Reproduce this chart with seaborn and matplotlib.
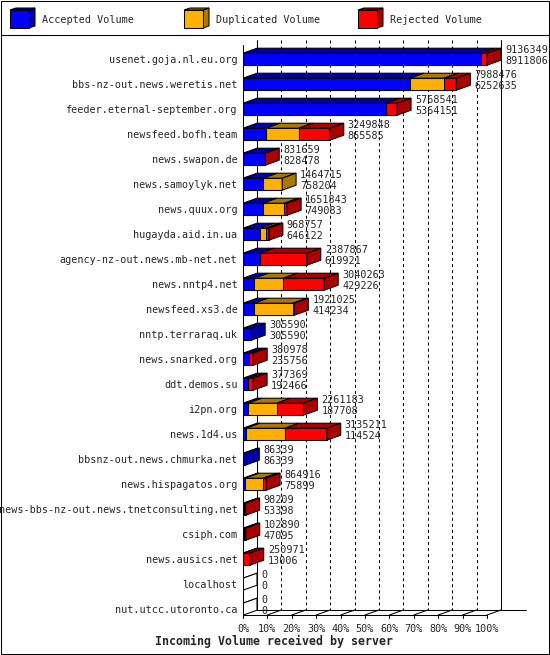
import numpy as np
import pandas as pd
import matplotlib
matplotlib.use("Agg")
import matplotlib.pyplot as plt
from matplotlib.patches import Polygon, Rectangle
import seaborn as sns

servers = ["usenet.goja.nl.eu.org", "bbs-nz-out.news.weretis.net", "feeder.eternal-september.org",
           "newsfeed.bofh.team", "news.swapon.de", "news.samoylyk.net", "news.quux.org",
           "hugayda.aid.in.ua", "agency-nz-out.news.mb-net.net", "news.nntp4.net", "newsfeed.xs3.de",
           "nntp.terraraq.uk", "news.snarked.org", "ddt.demos.su", "i2pn.org", "news.1d4.us",
           "bbsnz-out.news.chmurka.net", "news.hispagatos.org", "news-bbs-nz-out.news.tnetconsulting.net",
           "csiph.com", "news.ausics.net", "localhost", "nut.utcc.utoronto.ca"]
totals = [9136349, 7988476, 5768541, 3249848, 831659, 1464715, 1651843, 968757, 2387867, 3040263,
          1921025, 305590, 380978, 377369, 2261183, 3135211, 86339, 864916, 98209, 102890, 250971, 0, 0]
accepted = [8911806, 6252635, 5364151, 865585, 828478, 758204, 749083, 646122, 619921, 429226,
            414234, 305590, 235756, 192466, 187708, 114524, 86339, 75899, 53398, 47095, 13006, 0, 0]
duplicated = [0, 1270000, 0, 1220000, 0, 706511, 800000, 200000, 0, 1080000,
              1460000, 0, 0, 0, 1070000, 1460000, 0, 680000, 0, 0, 0, 0, 0]
rejected = [224543, 465841, 404390, 1164263, 3181, 0, 102760, 122635, 1767946, 1531037,
            46791, 0, 145222, 184903, 1003475, 1560687, 0, 109017, 44811, 55795, 237965, 0, 0]
tick_labels = ["0%", "10%", "20%", "30%", "40%", "50%", "60%", "70%", "80%", "90%", "100%"]
legend_labels = ["Accepted Volume", "Duplicated Volume", "Rejected Volume"]
title = "Incoming Volume received by server"

face = ["#0000FF", "#FFB000", "#FF0000"]
dark = ["#0000A8", "#AA7700", "#AA0000"]

W, H = 550, 655
sns.set_theme(style="white")
plt.rcParams["font.family"] = ["DejaVu Sans Mono", "DejaVu Sans"]
fig = plt.figure(figsize=(W / 100, H / 100), dpi=100)

# axes geometry (pixels)
ax_left, ax_right, ax_top, ax_bot = 243, 530, 38, 615
row0, rowstep = 59.2, 25.0
px_per_pct = 2.44
ax = fig.add_axes([ax_left / W, 1 - ax_bot / H, (ax_right - ax_left) / W, (ax_bot - ax_top) / H])

def ry(py):
    return (py - row0) / rowstep

mx = max(totals)
acc_pct = np.array(accepted) / mx * 100
dup_pct = np.array(duplicated) / mx * 100
rej_pct = np.array(rejected) / mx * 100
df = pd.DataFrame({"server": servers,
                   "a": acc_pct,
                   "ad": acc_pct + dup_pct,
                   "adr": acc_pct + dup_pct + rej_pct})

bw = 12 / rowstep
lw = 0.75
for col, c in zip(["adr", "ad", "a"], face[::-1]):
    sns.barplot(data=df, x=col, y="server", orient="h", color=c, saturation=1,
                width=bw, edgecolor="black", linewidth=lw, errorbar=None, ax=ax, zorder=3)

dx = 14 / px_per_pct
dy = 5 / rowstep
F = ry(615)
ax.set_xlim(0, (ax_right - ax_left) / px_per_pct)
ax.set_ylim(F, ry(ax_top))
for s in ax.spines.values():
    s.set_visible(False)
ax.set_xticks([])
ax.set_yticks(range(len(servers)))
ax.set_yticklabels(servers, fontsize=7.3)
ax.tick_params(axis="y", length=0, pad=4)
ax.set_xlabel("")
ax.set_ylabel("")

# back wall, grid and floor
ax.plot([dx, dx], [ry(40), F - dy], color="black", lw=lw, zorder=1)
ax.plot([100 + dx, 100 + dx], [ry(40), F - dy], color="black", lw=lw, zorder=1)
for k in range(1, 10):
    ax.plot([10 * k + dx] * 2, [ry(40), F - dy], color="black", lw=lw,
            linestyle=(0, (2.9, 2.9)), zorder=1)
    ax.plot([10 * k, 10 * k + dx], [F, F - dy], color="black", lw=lw, zorder=1, clip_on=False)
ax.plot([0, 0], [ry(45), F], color="black", lw=lw, zorder=4, clip_on=False)
ax.plot([0, 100], [F, F], color="black", lw=lw, zorder=4, clip_on=False)
ax.plot([100, 100 + dx], [F, F - dy], color="black", lw=lw, zorder=4, clip_on=False)
ax.plot([dx, (526 - ax_left) / px_per_pct], [F - dy, F - dy], color="black", lw=lw, zorder=1, clip_on=False)
for k, t in enumerate(tick_labels):
    ax.plot([10 * k, 10 * k], [F, F + 3 / rowstep], color="black", lw=lw, clip_on=False)
    ax.text(10 * k, ry(629), t, ha="center", va="center", fontsize=7.3, clip_on=False)

# 3D faces
for i in range(len(servers)):
    top = i - bw / 2
    bot = i + bw / 2
    edges = [0, df["a"][i], df["ad"][i], df["adr"][i]]
    last = 0
    for j in range(3):
        s, e = edges[j], edges[j + 1]
        if e > s:
            last = j
            ax.add_patch(Polygon([(s, top), (e, top), (e + dx, top - dy), (s + dx, top - dy)],
                                 closed=True, facecolor=dark[j], edgecolor="black", lw=lw, zorder=3))
    end = edges[3]
    sidec = dark[last] if end > 0 else "white"
    if end == 0:
        ax.add_patch(Polygon([(0, top), (dx, top - dy)], closed=False, fill=False,
                             edgecolor="black", lw=lw, zorder=3))
    ax.add_patch(Polygon([(end, top), (end, bot), (end + dx, bot - dy), (end + dx, top - dy)],
                         closed=True, facecolor=sidec, edgecolor="black", lw=lw, zorder=3))
    xl = end + dx + 4 / px_per_pct
    ax.text(xl, i - 0.37, str(totals[i]), ha="left", va="center", fontsize=7.3, zorder=5, clip_on=False)
    ax.text(xl, i + 0.08, str(accepted[i]), ha="left", va="center", fontsize=7.3, zorder=5, clip_on=False)

# legend strip and borders
fig.patches.append(Rectangle((0.5 / W, 1 - 35 / H), (W - 1.5) / W, (35 - 0.5) / H,
                             transform=fig.transFigure, fill=False, edgecolor="black", lw=lw))
fig.patches.append(Rectangle((0.5 / W, 0.8 / H), (W - 1.5) / W, 1 - 35.5 / H,
                             transform=fig.transFigure, fill=False, edgecolor="black", lw=lw))

def fpt(x, y):
    return (x / W, 1 - y / H)

for k, (lab, fc, dc) in enumerate(zip(legend_labels, face, dark)):
    x0 = 10 + 174 * k
    y0, y1 = 10, 28
    x1 = x0 + 19
    ddx, ddy = 6, 2
    fig.patches.append(Polygon([fpt(x1, y0), fpt(x1, y1), fpt(x1 + ddx, y1 - ddy), fpt(x1 + ddx, y0 - ddy)],
                               closed=True, transform=fig.transFigure, facecolor=dc, edgecolor="black", lw=lw))
    fig.patches.append(Polygon([fpt(x0, y0), fpt(x1, y0), fpt(x1 + ddx, y0 - ddy), fpt(x0 + ddx, y0 - ddy)],
                               closed=True, transform=fig.transFigure, facecolor=dc, edgecolor="black", lw=lw))
    fig.patches.append(Polygon([fpt(x0, y0), fpt(x1, y0), fpt(x1, y1), fpt(x0, y1)],
                               closed=True, transform=fig.transFigure, facecolor=fc, edgecolor="black", lw=lw))
    fig.text(*fpt(x0 + 32, 20), lab, ha="left", va="center", fontsize=7.3)

fig.text(*fpt(274, 641), title, ha="center", va="center", fontsize=8.4, fontweight="bold")

fig.savefig("out.png", dpi=100)
